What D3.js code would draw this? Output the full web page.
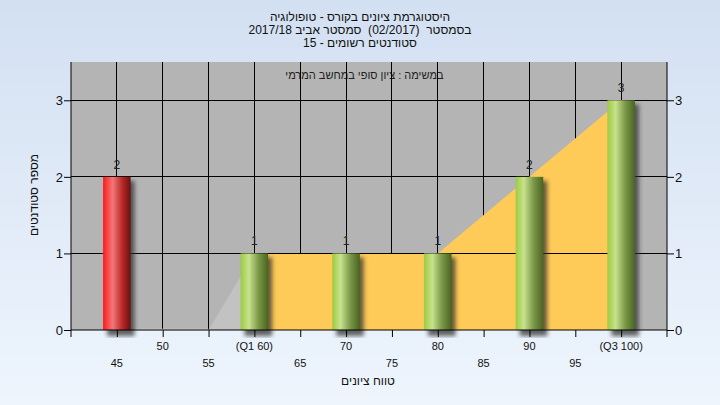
<!DOCTYPE html>
<html><head><meta charset="utf-8">
<script src="https://cdn.jsdelivr.net/npm/d3@7"></script>
<style>body{margin:0;padding:0;overflow:hidden}svg{display:block}text{font-family:"Liberation Sans",Arial,sans-serif;white-space:pre}</style>
</head><body>
<script>
const titleLines = ["היסטוגרמת ציונים בקורס - טופולוגיה", "בסמסטר  (02/2017)  סמסטר אביב 2017/18", "סטודנטים רשומים - 15"];
const subtitle = "במשימה : ציון סופי במחשב המרמי";
const xTitle = "טווח ציונים";
const yTitle = "מספר סטודנטים";
const grades = [45, 60, 70, 80, 90, 100];
const counts = [2, 1, 1, 1, 2, 3];
const barColor = ["red", "green", "green", "green", "green", "green"];
const xTicks = [45, 50, 55, 60, 65, 70, 75, 80, 85, 90, 95, 100];
const xTickLabels = ["45", "50", "55", "(Q1 60)", "65", "70", "75", "80", "85", "90", "95", "(Q3 100)"];
const yTicks = [0, 1, 2, 3];
const outsideAreaX = [55, 60];
const outsideAreaY = [0, 1];
const zeroLineX = [47, 55];
const quartileAreaX = [60, 70, 80, 90, 100];
const quartileAreaY = [1, 1, 1, 2, 3];

const W = 720, H = 405;
const m = {l: 71, r: 53, t: 62, b: 75};
const svg = d3.select("body").append("svg").attr("width", W).attr("height", H);
const defs = svg.append("defs");
const bg = defs.append("linearGradient").attr("id", "bg").attr("x1", 0).attr("y1", 0).attr("x2", 0).attr("y2", 1);
bg.append("stop").attr("offset", 0).attr("stop-color", "#d3e0f2");
bg.append("stop").attr("offset", 1).attr("stop-color", "#eef5fd");
const gr = defs.append("linearGradient").attr("id", "gred");
[[0, "#ff1a1a"], [0.35, "#f07878"], [0.7, "#b82828"], [1, "#6a1010"]].forEach(s => gr.append("stop").attr("offset", s[0]).attr("stop-color", s[1]));
const gg = defs.append("linearGradient").attr("id", "ggreen");
[[0, "#9ccc40"], [0.3, "#c8e28e"], [0.65, "#7a9848"], [1, "#4a6420"]].forEach(s => gg.append("stop").attr("offset", s[0]).attr("stop-color", s[1]));
const blur = defs.append("filter").attr("id", "sh").attr("x", "-50%").attr("y", "-20%").attr("width", "200%").attr("height", "140%");
blur.append("feGaussianBlur").attr("stdDeviation", 2.2);

svg.append("rect").attr("width", W).attr("height", H).attr("fill", "url(#bg)");

const x = d3.scaleLinear().domain([40, 105]).range([m.l, W - m.r]);
const y = d3.scaleLinear().domain([0, 3.5]).range([H - m.b, m.t]);
const pw = W - m.l - m.r, ph = H - m.t - m.b;

const clip = defs.append("clipPath").attr("id", "clp");
clip.append("rect").attr("x", m.l).attr("y", m.t).attr("width", pw).attr("height", ph + 8);

svg.append("rect").attr("x", m.l).attr("y", m.t).attr("width", pw).attr("height", ph).attr("fill", "#b4b4b4");

// title
svg.append("g").selectAll("text").data(titleLines).join("text")
  .attr("x", 360).attr("y", (d, i) => 21 + i * 13).attr("text-anchor", "middle")
  .attr("direction", "rtl").attr("font-size", 12).attr("fill", "#111").text(d => d);

svg.append("text").attr("x", x(72)).attr("y", m.t + 17).attr("text-anchor", "middle")
  .attr("direction", "rtl").attr("font-size", 11).attr("fill", "#222").text(subtitle);

// grid
const grid = svg.append("g");
grid.selectAll("line.v").data(xTicks).join("line").attr("class", "v")
  .attr("x1", d => x(d)).attr("x2", d => x(d)).attr("y1", m.t).attr("y2", H - m.b)
  .attr("stroke", "#000").attr("stroke-width", 1).attr("shape-rendering", "crispEdges");
grid.selectAll("line.h").data(yTicks.slice(1)).join("line").attr("class", "h")
  .attr("x1", m.l).attr("x2", W - m.r).attr("y1", d => y(d)).attr("y2", d => y(d))
  .attr("stroke", "#000").attr("stroke-width", 1).attr("shape-rendering", "crispEdges");

// areas
const area = d3.area().x(d => x(d[0])).y0(y(0)).y1(d => y(d[1]));
svg.append("path").datum(outsideAreaX.map((v, i) => [v, outsideAreaY[i]]))
  .attr("d", area).attr("fill", "#c2c2c2");
svg.append("line").attr("x1", x(zeroLineX[0])).attr("x2", x(zeroLineX[1])).attr("y1", y(0) - 0.5).attr("y2", y(0) - 0.5)
  .attr("stroke", "#d0d0d0").attr("stroke-width", 1.5);
svg.append("path").datum(quartileAreaX.map((v, i) => [v, quartileAreaY[i]]))
  .attr("d", area).attr("fill", "#fecb58");
svg.append("line").attr("x1", m.l).attr("x2", W - m.r).attr("y1", y(1)).attr("y2", y(1))
  .attr("stroke", "#000").attr("stroke-width", 1).attr("shape-rendering", "crispEdges");

// bars
const bw = x(43) - x(40);
const data = grades.map((g, i) => ({g, c: counts[i], col: barColor[i]}));
const bars = svg.append("g").attr("clip-path", "url(#clp)");
bars.selectAll("rect.sh").data(data).join("rect").attr("class", "sh")
  .attr("x", d => x(d.g) - bw / 2 + 4).attr("y", d => y(d.c) + 4)
  .attr("width", bw).attr("height", d => y(0) - y(d.c) + 2)
  .attr("fill", "#333").attr("opacity", 0.75).attr("filter", "url(#sh)");
bars.selectAll("rect.b").data(data).join("rect").attr("class", "b")
  .attr("x", d => x(d.g) - bw / 2).attr("y", d => y(d.c))
  .attr("width", bw).attr("height", d => y(0) - y(d.c))
  .attr("fill", d => d.col === "red" ? "url(#gred)" : "url(#ggreen)");
svg.append("g").selectAll("text").data(data).join("text")
  .attr("x", d => x(d.g)).attr("y", d => y(d.c) - 8).attr("text-anchor", "middle")
  .attr("font-size", 12).attr("fill", "#222").text(d => d.c);

// axes
const xa = d3.axisBottom(x).tickValues(xTicks).tickSize(7).tickFormat("");
const gx = svg.append("g").attr("transform", `translate(0,${y(0)})`).call(xa);
gx.select(".domain").attr("stroke", "#000").attr("d", `M${m.l},0H${W - m.r}`);
gx.selectAll(".tick line").attr("stroke", "#000");
svg.append("g").selectAll("text").data(xTicks).join("text")
  .attr("x", d => x(d)).attr("y", (d, i) => i % 2 === 0 ? 367 : 350)
  .attr("text-anchor", "middle").attr("font-size", 11).attr("fill", "#111")
  .text((d, i) => xTickLabels[i]);

const ya = d3.axisLeft(y).tickValues(yTicks).tickSize(7).tickFormat(d3.format("d"));
const gyl = svg.append("g").attr("transform", `translate(${m.l},0)`).call(ya);
gyl.select(".domain").attr("stroke", "#000").attr("d", `M0,${m.t}V${y(0) + 7}`);
gyl.selectAll(".tick line").attr("stroke", "#000");
gyl.selectAll(".tick text").attr("font-size", 13).attr("fill", "#111").attr("font-family", "Liberation Sans, Arial, sans-serif").attr("x", -8);

const yr = d3.axisRight(y).tickValues(yTicks).tickSize(7).tickFormat(d3.format("d"));
const gyr = svg.append("g").attr("transform", `translate(${W - m.r},0)`).call(yr);
gyr.select(".domain").attr("stroke", "#000").attr("d", `M0,${m.t}V${y(0) + 7}`);
gyr.selectAll(".tick line").attr("stroke", "#000");
gyr.selectAll(".tick text").attr("font-size", 13).attr("fill", "#111").attr("font-family", "Liberation Sans, Arial, sans-serif").attr("x", 8);

svg.append("text").attr("x", 368).attr("y", 385).attr("text-anchor", "middle")
  .attr("direction", "rtl").attr("font-size", 12).attr("fill", "#111").text(xTitle);
svg.append("text").attr("transform", `translate(38,195) rotate(-90)`).attr("text-anchor", "middle")
  .attr("direction", "rtl").attr("font-size", 12).attr("fill", "#111").text(yTitle);
</script>
</body></html>
